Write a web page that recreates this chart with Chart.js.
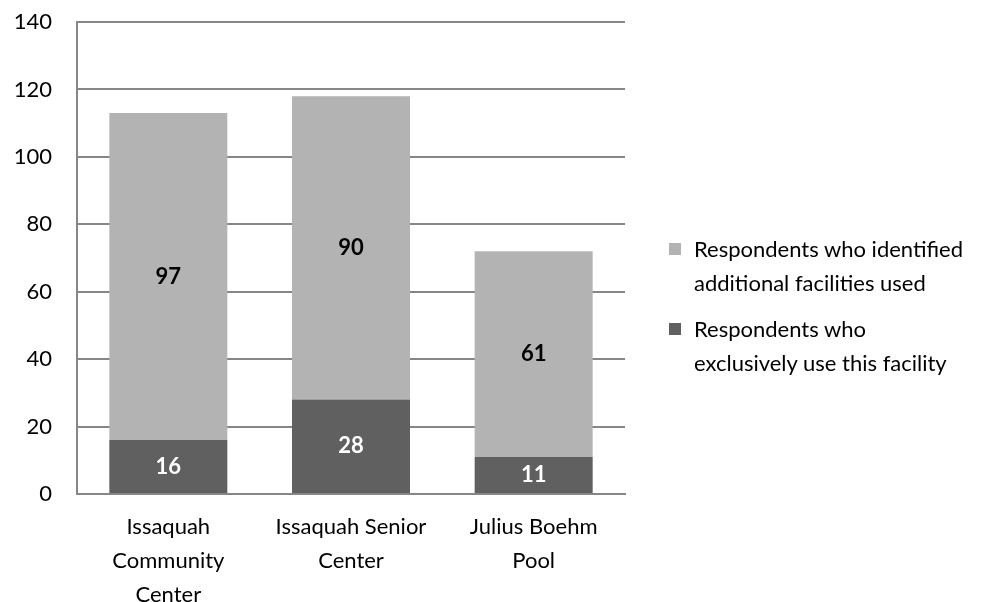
<!DOCTYPE html>
<html>
<head>
<meta charset="utf-8">
<script src="https://cdn.jsdelivr.net/npm/chart.js@4/dist/chart.umd.min.js"></script>
<style>
  html, body { margin: 0; padding: 0; background: #fff; }
  #wrap { position: relative; width: 995px; height: 602px; }
  #legend { position: absolute; left: 669px; top: 232px; font-family: Lato, "Open Sans", sans-serif; font-size: 22px; color: #000; line-height: 34px; }
  .item { position: relative; padding-left: 25px; margin-bottom: 12px; }
  .sw { position: absolute; left: 0; top: 11px; width: 12px; height: 12px; }
</style>
</head>
<body>
<div id="wrap">
  <canvas id="c" width="995" height="602"></canvas>
  <div id="legend"></div>
</div>
<script>
const categories = [["Issaquah", "Community", "Center"], ["Issaquah Senior", "Center"], ["Julius Boehm", "Pool"]];
const exclusiveValues = [16, 28, 11];
const additionalValues = [97, 90, 61];
const seriesNames = [["Respondents who identified", "additional facilities used"], ["Respondents who", "exclusively use this facility"]];
const yTicks = [0, 20, 40, 60, 80, 100, 120, 140];

const FONT = "Lato, 'Open Sans', sans-serif";
const colors = { additional: "#b3b3b3", exclusive: "#606060" };

const labelPlugin = {
  id: "segLabels",
  afterDatasetsDraw(chart) {
    const ctx = chart.ctx;
    ctx.save();
    ctx.font = "bold 22px " + FONT;
    ctx.textAlign = "center";
    ctx.textBaseline = "middle";
    chart.data.datasets.forEach((ds, i) => {
      const meta = chart.getDatasetMeta(i);
      meta.data.forEach((bar, j) => {
        const y = (bar.y + bar.base) / 2;
        ctx.fillStyle = ds.labelColor;
        ctx.fillText(String(ds.data[j]), bar.x, y);
      });
    });
    ctx.restore();
  }
};

new Chart(document.getElementById("c"), {
  type: "bar",
  data: {
    labels: categories,
    datasets: [
      { label: "exclusive", data: exclusiveValues, backgroundColor: colors.exclusive, labelColor: "#ffffff" },
      { label: "additional", data: additionalValues, backgroundColor: colors.additional, labelColor: "#000000" }
    ]
  },
  options: {
    responsive: false,
    animation: false,
    layout: { padding: { top: 22, right: 370, left: 0, bottom: 0 } },
    plugins: { legend: { display: false }, tooltip: { enabled: false } },
    datasets: { bar: { categoryPercentage: 0.646, barPercentage: 1.0 } },
    scales: {
      x: {
        stacked: true,
        grid: { display: false, drawTicks: false },
        border: { display: true, color: "#868686", width: 2 },
        ticks: { color: "#000", font: { family: FONT, size: 22, lineHeight: 1.55 }, padding: 16, maxRotation: 0 },
        afterFit(s) { s.height = 108; s.paddingLeft = 0; s.paddingRight = 0; }
      },
      y: {
        stacked: true,
        min: 0, max: 140,
        afterBuildTicks(s) { s.ticks = yTicks.map(v => ({ value: v })); },
        grid: { color: "#868686", lineWidth: 2, drawTicks: false },
        border: { display: true, color: "#868686", width: 2 },
        ticks: { color: "#000", font: { family: FONT, size: 22 }, padding: 25 },
        afterFit(s) { s.width = 77; s.paddingTop = 0; s.paddingBottom = 0; }
      }
    }
  },
  plugins: [labelPlugin]
});

const legend = document.getElementById("legend");
[[seriesNames[0], colors.additional], [seriesNames[1], colors.exclusive]].forEach(([lines, col]) => {
  const d = document.createElement("div");
  d.className = "item";
  const sw = document.createElement("span");
  sw.className = "sw";
  sw.style.background = col;
  d.appendChild(sw);
  lines.forEach((t, k) => {
    if (k) d.appendChild(document.createElement("br"));
    d.appendChild(document.createTextNode(t));
  });
  legend.appendChild(d);
});
</script>
</body>
</html>
